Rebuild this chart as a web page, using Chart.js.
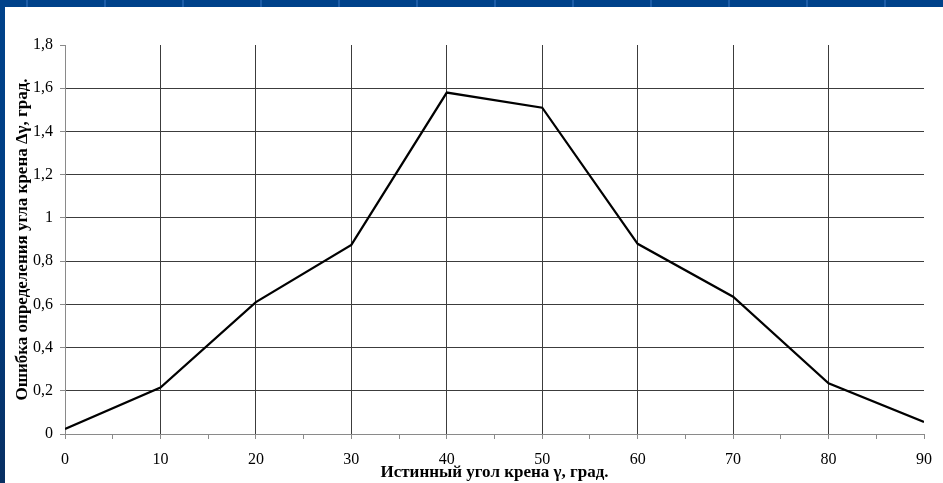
<!DOCTYPE html>
<html>
<head>
<meta charset="utf-8">
<script src="https://cdn.jsdelivr.net/npm/chart.js@4/dist/chart.umd.min.js"></script>
<style>
  html, body { margin: 0; padding: 0; }
  body {
    width: 943px; height: 483px; overflow: hidden; position: relative;
    background:
      repeating-linear-gradient(90deg, rgba(80,140,220,0) 0 26px, rgba(80,140,220,0.35) 26px 28px, rgba(80,140,220,0) 28px 78px),
      linear-gradient(180deg, #00428a 0%, #003d82 55%, #082f62 100%);
  }
  #panel {
    position: absolute; left: 5px; top: 7px; width: 938px; height: 476px;
    background: #ffffff;
  }
  canvas { display: block; }
</style>
</head>
<body>
<div id="panel"><canvas id="chart" width="938" height="476"></canvas></div>
<script>
// Roll angle (degrees) and roll-angle determination error (degrees)
const angles = [0, 10, 20, 30, 40, 50, 60, 70, 80, 90];
const errors = [0.023, 0.215, 0.61, 0.875, 1.58, 1.51, 0.88, 0.635, 0.235, 0.056];

const xTitle = 'Истинный угол крена γ, град.';
const yTitle = 'Ошибка определения угла крена Δγ, град.';

const serif = "'Liberation Serif', 'Times New Roman', serif";
const gridColor = '#3c3c3c';
const axisColor = '#8a8a8a';

const points = angles.map((a, i) => ({ x: a, y: errors[i] }));

function fmt(v) {
  return String(Math.round(v * 10) / 10).replace('.', ',');
}

new Chart(document.getElementById('chart'), {
  type: 'line',
  data: {
    datasets: [{
      data: points,
      borderColor: '#000000',
      borderWidth: 2.2,
      pointRadius: 0,
      tension: 0,
      fill: false
    }]
  },
  options: {
    responsive: false,
    animation: false,
    events: [],
    layout: { padding: { top: 38, right: 17, bottom: 0, left: 0 } },
    plugins: { legend: { display: false }, tooltip: { enabled: false } },
    scales: {
      x: {
        type: 'linear',
        min: 0, max: 90,
        afterFit: s => { s.height = 49; },
        ticks: {
          stepSize: 5,
          autoSkip: false,
          maxRotation: 0,
          padding: 11,
          color: '#000',
          font: { family: serif, size: 16 },
          callback: v => (v % 10 === 0 ? String(v) : '')
        },
        grid: {
          color: c => {
            const v = c.tick ? c.tick.value : 0;
            return (v % 10 === 0 && v > 0 && v < 90) ? gridColor : 'rgba(0,0,0,0)';
          },
          tickColor: axisColor,
          tickLength: 5,
          lineWidth: 1
        },
        border: { display: true, color: axisColor, width: 1 },
        title: {
          display: true,
          text: xTitle,
          color: '#000',
          font: { family: serif, size: 17, weight: 'bold' },
          padding: { top: 0, bottom: 0 }
        }
      },
      y: {
        min: 0, max: 1.8,
        afterFit: s => { s.width = 60; },
        ticks: {
          stepSize: 0.2,
          padding: 7,
          color: '#000',
          font: { family: serif, size: 16 },
          callback: v => fmt(v)
        },
        grid: {
          color: c => {
            const v = c.tick ? c.tick.value : 0;
            return (v > 0.01 && v < 1.79) ? gridColor : 'rgba(0,0,0,0)';
          },
          tickColor: axisColor,
          tickLength: 5,
          lineWidth: 1
        },
        border: { display: true, color: axisColor, width: 1 },
        title: {
          display: true,
          text: yTitle,
          color: '#000',
          font: { family: serif, size: 17, weight: 'bold' },
          padding: { top: 7, bottom: 0 }
        }
      }
    }
  }
});
</script>
</body>
</html>
